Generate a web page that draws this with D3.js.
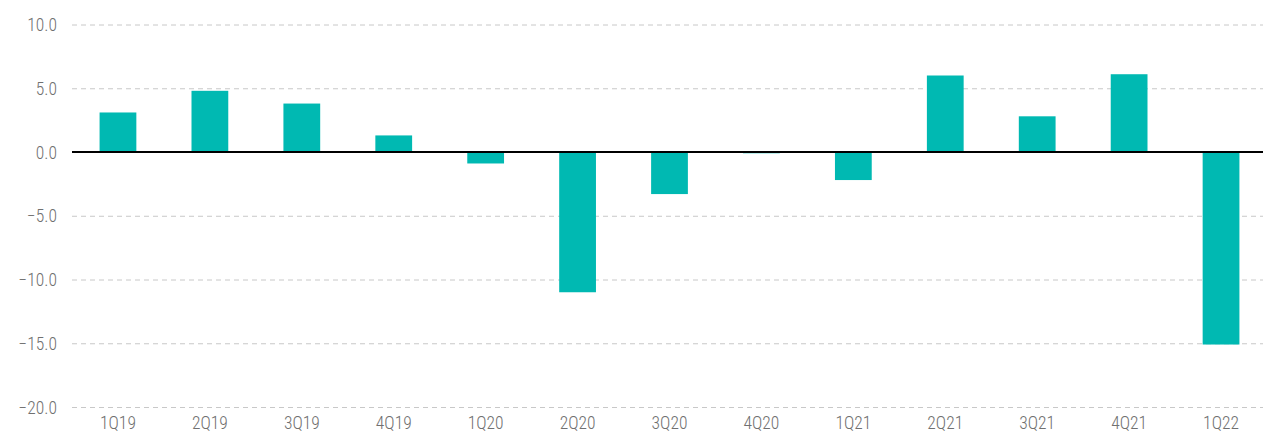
<!DOCTYPE html>
<html>
<head>
<meta charset="utf-8">
<script src="https://cdn.jsdelivr.net/npm/d3@7"></script>
<style>
  body { margin: 0; background: #fff; }
  svg text { font-family: "Liberation Sans Narrow", "Roboto Condensed", "Liberation Sans", sans-serif; font-weight: 300; fill: #707070; }
</style>
</head>
<body>
<figure style="margin:0"></figure>
<script>
// quarters and their values
const quarters = ["1Q19","2Q19","3Q19","4Q19","1Q20","2Q20","3Q20","4Q20","1Q21","2Q21","3Q21","4Q21","1Q22"];
const values = [3.1, 4.8, 3.8, 1.3, -0.9, -11.0, -3.3, -0.1, -2.2, 6.0, 2.8, 6.1, -15.1];
const yTicks = [10, 5, 0, -5, -10, -15, -20];

const width = 1263, height = 434, lpad = 72, tpad = 24.5, bpad = 407;

const svg = d3.select("figure")
    .append("svg")
    .attr("width", width)
    .attr("height", height);

const xScale = d3.scaleBand()
    .domain(quarters)
    .range([lpad, 1267])
    .paddingInner(0.6)
    .paddingOuter(0.3);

const yScale = d3.scaleLinear()
    .domain([-20, 10])
    .range([bpad, tpad]);

// dashed grid lines
const yAxis = svg.append("g")
    .attr("transform", "translate(" + lpad + ",0)")
    .call(d3.axisLeft(yScale).tickValues(yTicks).tickSize(-(width - lpad)).tickFormat(d3.format(".1f")).tickPadding(15));
yAxis.select(".domain").remove();
yAxis.selectAll(".tick line")
    .attr("stroke", "#c8c8c8")
    .attr("stroke-dasharray", "5,4");
yAxis.selectAll(".tick text")
    .style("font-size", "17.5px")
    .attr("dy", "0.35em");

svg.append("g")
    .selectAll("rect")
    .data(values)
    .enter()
    .append("rect")
    .attr("x", (d, i) => xScale(quarters[i]))
    .attr("y", d => yScale(Math.max(0, d)))
    .attr("width", xScale.bandwidth())
    .attr("height", d => Math.abs(yScale(d) - yScale(0)))
    .attr("fill", "#00b9b2");

// zero line
svg.append("line")
    .attr("x1", lpad)
    .attr("x2", width)
    .attr("y1", yScale(0))
    .attr("y2", yScale(0))
    .attr("stroke", "#000")
    .attr("stroke-width", 2);

const xAxis = svg.append("g")
    .attr("transform", "translate(0," + bpad + ")")
    .call(d3.axisBottom(xScale).tickSize(0).tickPadding(10));
xAxis.select(".domain").remove();
xAxis.selectAll("text")
    .style("font-size", "17.5px");
</script>
</body>
</html>
